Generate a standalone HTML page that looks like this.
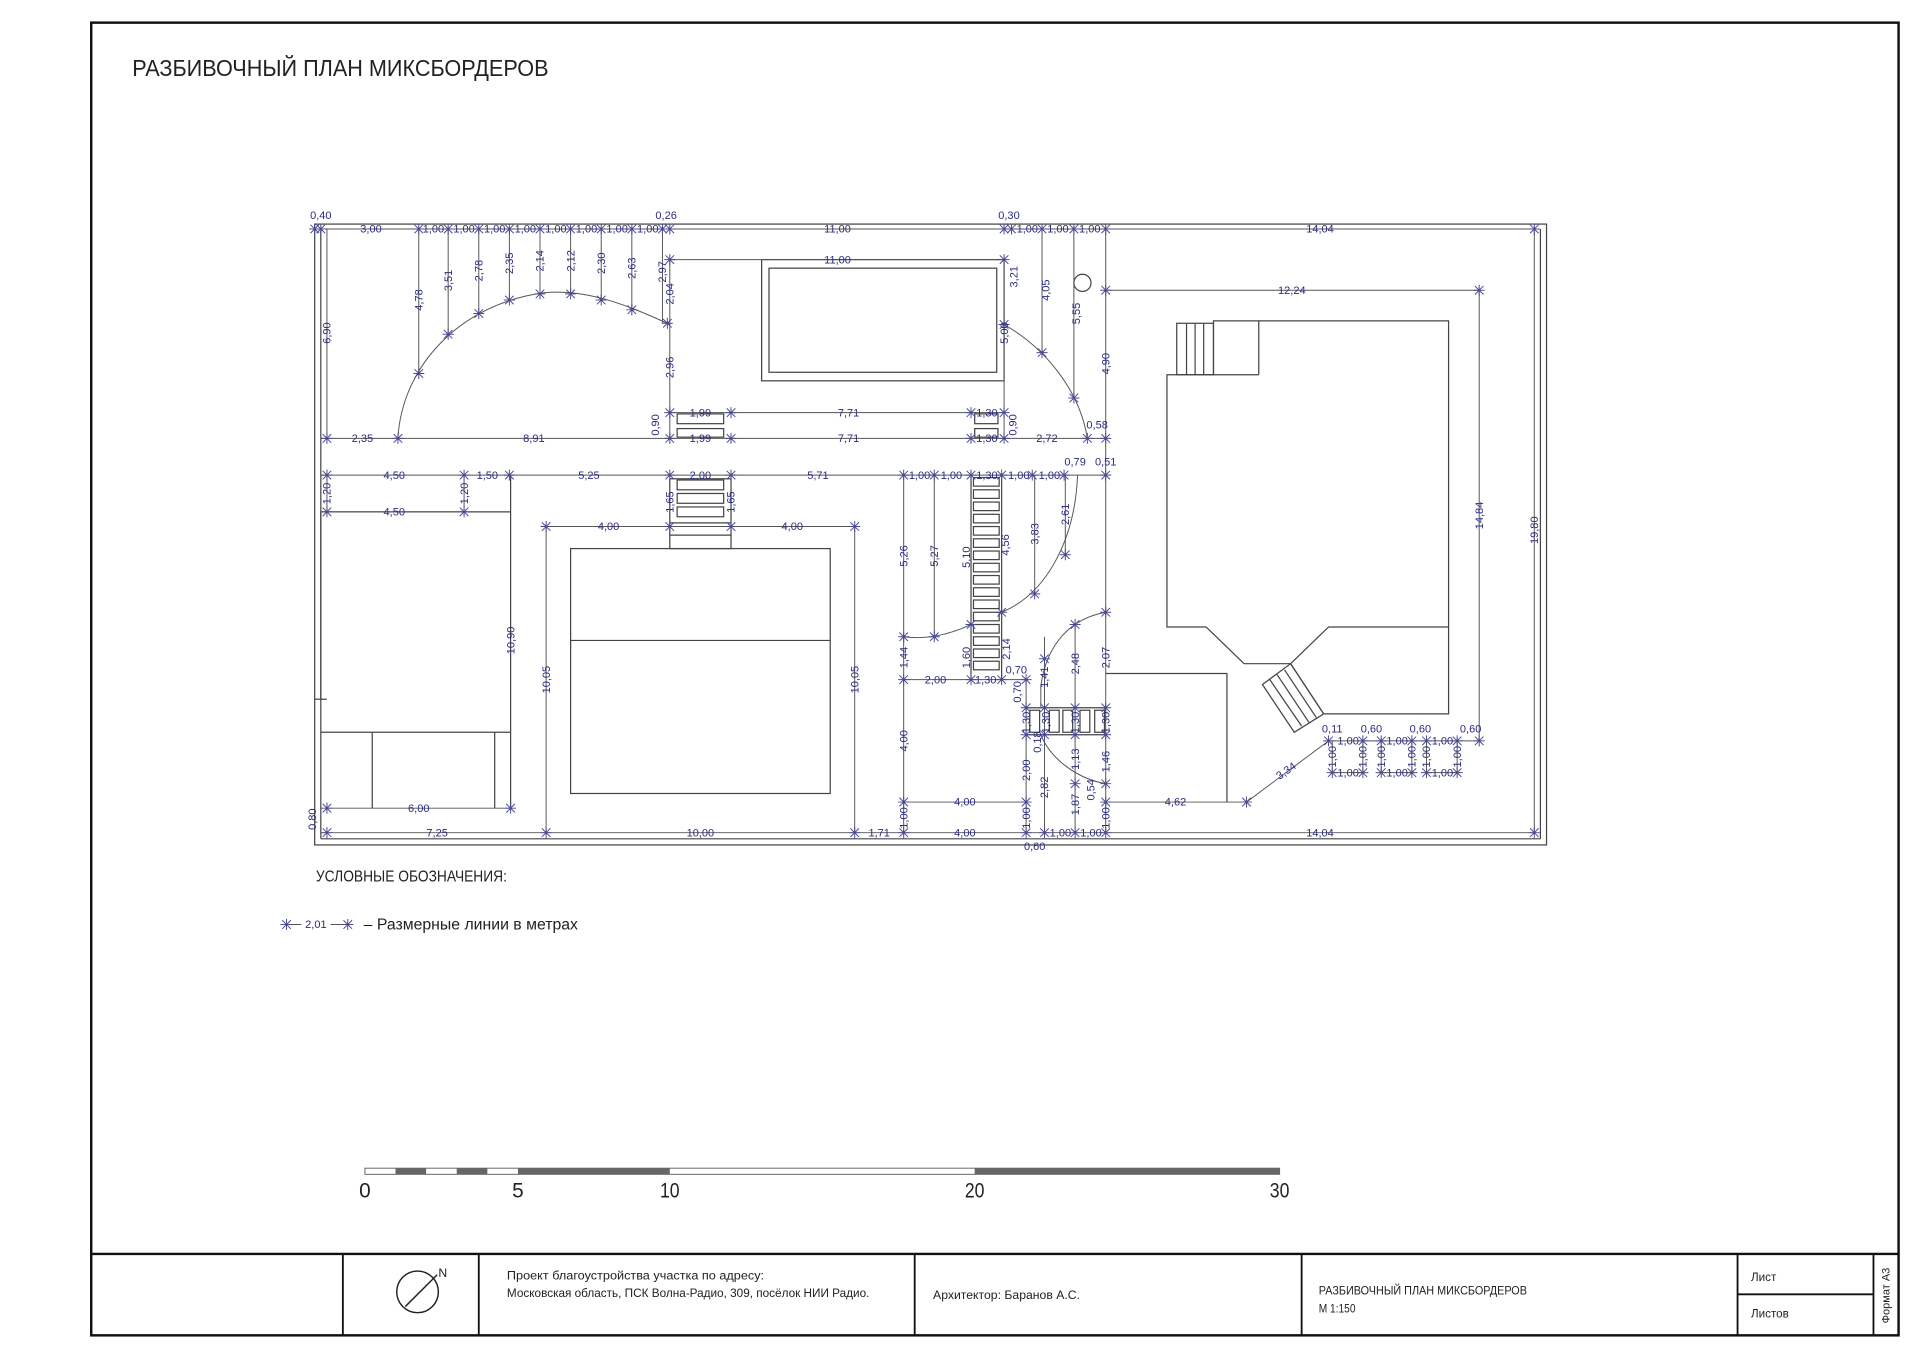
<!DOCTYPE html>
<html><head><meta charset="utf-8">
<style>
html,body{margin:0;padding:0;background:#fff;}
svg{display:block;}
.d{font-family:"Liberation Sans Narrow","Liberation Sans",sans-serif;font-size:9px;fill:#2b2b82;text-anchor:middle;}
.k{stroke:#555;stroke-width:0.8;fill:none;}
.g{stroke:#444;stroke-width:1;fill:none;}
.t{font-family:"Liberation Sans Narrow","Liberation Sans",sans-serif;fill:#222;}
</style></head>
<body>
<svg width="1920" height="1358" viewBox="0 0 1568 1109" preserveAspectRatio="none" xmlns="http://www.w3.org/2000/svg">
<defs>
<g id="x"><path d="M-3.5,-3.5L3.5,3.5M-3.5,3.5L3.5,-3.5M0,-4.5V4.5M-4.5,0H4.5" stroke="#4a4a90" stroke-width="0.8"/></g>
</defs>
<rect x="0" y="0" width="1568" height="1109" fill="#fff"/>
<!-- frame -->
<rect x="74.5" y="18.5" width="1476" height="1072" fill="none" stroke="#111" stroke-width="2"/>
<line x1="74" y1="1024" x2="1550" y2="1024" stroke="#111" stroke-width="2"/>
<g stroke="#111" stroke-width="1.5">
<line x1="280" y1="1024" x2="280" y2="1090"/><line x1="391" y1="1024" x2="391" y2="1090"/>
<line x1="747" y1="1024" x2="747" y2="1090"/><line x1="1063" y1="1024" x2="1063" y2="1090"/>
<line x1="1419" y1="1024" x2="1419" y2="1090"/><line x1="1530" y1="1024" x2="1530" y2="1090"/>
<line x1="1419" y1="1057" x2="1530" y2="1057"/>
</g>
<text class="t" x="108" y="62" font-size="19" textLength="340" lengthAdjust="spacingAndGlyphs">РАЗБИВОЧНЫЙ ПЛАН МИКСБОРДЕРОВ</text>

<!-- north arrow -->
<circle cx="341" cy="1055" r="17" fill="none" stroke="#222" stroke-width="1.2"/>
<line x1="331" y1="1067" x2="357" y2="1041" stroke="#222" stroke-width="1.2"/>
<text class="t" x="358" y="1043" font-size="10">N</text>
<text class="t" x="414" y="1045" font-size="9.5" textLength="210" lengthAdjust="spacingAndGlyphs">Проект благоустройства участка по адресу:</text>
<text class="t" x="414" y="1059" font-size="9.5" textLength="296" lengthAdjust="spacingAndGlyphs">Московская область, ПСК Волна-Радио, 309, посёлок НИИ Радио.</text>
<text class="t" x="762" y="1061" font-size="9.5" textLength="120" lengthAdjust="spacingAndGlyphs">Архитектор: Баранов А.С.</text>
<text class="t" x="1077" y="1057" font-size="9.5" textLength="170" lengthAdjust="spacingAndGlyphs">РАЗБИВОЧНЫЙ ПЛАН МИКСБОРДЕРОВ</text>
<text class="t" x="1077" y="1072" font-size="9.5" textLength="30" lengthAdjust="spacingAndGlyphs">М 1:150</text>
<text class="t" x="1430" y="1046" font-size="9.5">Лист</text>
<text class="t" x="1430" y="1076" font-size="9.5">Листов</text>
<text class="t" font-size="9" transform="translate(1543,1058) rotate(-90)" text-anchor="middle">Формат А3</text>

<!-- scale bar -->
<rect x="298" y="954" width="747" height="5" fill="#fff" stroke="#666" stroke-width="0.8"/>
<g fill="#666"><rect x="323" y="954" width="25" height="5"/><rect x="373" y="954" width="25" height="5"/><rect x="423" y="954" width="124" height="5"/><rect x="796" y="954" width="249" height="5"/></g>
<g class="t" font-size="17" text-anchor="middle"><text x="298" y="978">0</text><text x="423" y="978">5</text><text x="547" y="978" textLength="16" lengthAdjust="spacingAndGlyphs">10</text><text x="796" y="978" textLength="16" lengthAdjust="spacingAndGlyphs">20</text><text x="1045" y="978" textLength="16" lengthAdjust="spacingAndGlyphs">30</text></g>

<!-- legend -->
<text class="t" x="258" y="720" font-size="13" textLength="156" lengthAdjust="spacingAndGlyphs">УСЛОВНЫЕ ОБОЗНАЧЕНИЯ:</text>
<line class="k" x1="229" y1="755" x2="288" y2="755"/>
<use href="#x" x="234" y="755"/><use href="#x" x="284" y="755"/>
<rect x="246" y="749" width="24" height="10" fill="#fff"/>
<text class="d" x="258" y="758">2,01</text>
<text class="t" x="297" y="759" font-size="13" textLength="175" lengthAdjust="spacingAndGlyphs">– Размерные линии в метрах</text>

<!-- site boundary -->
<g class="g">
<rect x="257" y="183" width="1006" height="507"/>
<line x1="262" y1="187" x2="262" y2="685"/><line x1="1258" y1="187" x2="1258" y2="685"/>
<line x1="262" y1="685" x2="1258" y2="685"/>
<line x1="257" y1="571" x2="267" y2="571"/><line x1="262" y1="418" x2="262" y2="571"/>
</g>

<!-- structures -->
<g class="g">
<rect x="622" y="212" width="198" height="99"/><rect x="628" y="219" width="186" height="85"/>
<circle cx="884" cy="231" r="7"/>
<rect x="553" y="338" width="38" height="8"/><rect x="553" y="350" width="38" height="7"/>
<rect x="796" y="338" width="19" height="8"/><rect x="796" y="350" width="19" height="7"/>
<line x1="262" y1="418" x2="417" y2="418"/><line x1="417" y1="388" x2="417" y2="660"/>
<line x1="262" y1="598" x2="417" y2="598"/><line x1="304" y1="598" x2="304" y2="660"/><line x1="404" y1="598" x2="404" y2="660"/>
<rect x="466" y="448" width="212" height="200"/><line x1="466" y1="523" x2="678" y2="523"/>
<rect x="547" y="391" width="50" height="57"/>
<rect x="553" y="392" width="38" height="8"/><rect x="553" y="403" width="38" height="8"/><rect x="553" y="414" width="38" height="8"/>
<line x1="547" y1="427" x2="597" y2="427"/><line x1="547" y1="437" x2="597" y2="437"/>
<line x1="793" y1="388" x2="793" y2="555"/><line x1="818" y1="388" x2="818" y2="555"/>
<rect x="795" y="390" width="21" height="7"/><rect x="795" y="400" width="21" height="7"/><rect x="795" y="410" width="21" height="7"/><rect x="795" y="420" width="21" height="7"/>
<rect x="795" y="430" width="21" height="7"/><rect x="795" y="440" width="21" height="7"/><rect x="795" y="450" width="21" height="7"/><rect x="795" y="460" width="21" height="7"/>
<rect x="795" y="470" width="21" height="7"/><rect x="795" y="480" width="21" height="7"/><rect x="795" y="490" width="21" height="7"/><rect x="795" y="500" width="21" height="7"/>
<rect x="795" y="510" width="21" height="7"/><rect x="795" y="520" width="21" height="7"/><rect x="795" y="530" width="21" height="7"/><rect x="795" y="540" width="21" height="7"/>
<line x1="838" y1="578" x2="903" y2="578"/><line x1="838" y1="600" x2="903" y2="600"/>
<rect x="841" y="580" width="8" height="18"/><rect x="857" y="580" width="8" height="18"/><rect x="868" y="580" width="8" height="18"/><rect x="882" y="580" width="8" height="18"/><rect x="894" y="580" width="8" height="18"/>
<polyline points="903,550 1002,550 1002,655"/>
<polygon points="953,306 991,306 991,262 1183,262 1183,583 1081,583 1054,542 1085,512 1183,512 1085,512 1054,542 1016,542 985,512 953,512"/>
<rect x="961" y="264" width="30" height="42"/><line x1="969" y1="264" x2="969" y2="306"/><line x1="976" y1="264" x2="976" y2="306"/><line x1="983" y1="264" x2="983" y2="306"/>
<line x1="1028" y1="262" x2="1028" y2="306"/><line x1="991" y1="306" x2="1028" y2="306"/>
<polygon points="1031,559 1054,542 1081,583 1057,598"/>
<line x1="1037" y1="555" x2="1063" y2="593"/><line x1="1043" y1="551" x2="1069" y2="590"/><line x1="1049" y1="547" x2="1075" y2="586"/>
</g>

<!-- arcs -->
<g class="k" stroke="#444">
<path d="M325,358 C328,300 375,248 445,239 C480,236 515,250 547,265"/>
<path d="M820,265 C855,285 882,320 888,358"/>
<path d="M880,388 C878,440 855,485 818,500"/>
<path d="M738,520 C760,523 780,516 793,510"/>
<path d="M903,500 C875,505 855,525 850,560 L850,578"/>
<path d="M850,600 C858,620 880,636 903,640"/>
</g>

<!-- dimension lines -->
<g class="k">
<line x1="257" y1="187" x2="1253" y2="187"/>
<line x1="547" y1="212" x2="820" y2="212"/>
<line x1="903" y1="237" x2="1208" y2="237"/>
<line x1="547" y1="337" x2="820" y2="337"/>
<line x1="262" y1="358" x2="903" y2="358"/>
<line x1="262" y1="388" x2="903" y2="388"/>
<line x1="262" y1="418" x2="379" y2="418"/>
<line x1="446" y1="430" x2="698" y2="430"/>
<line x1="738" y1="555" x2="838" y2="555"/>
<line x1="738" y1="655" x2="838" y2="655"/><line x1="903" y1="655" x2="1018" y2="655"/>
<line x1="267" y1="660" x2="417" y2="660"/>
<line x1="262" y1="680" x2="1253" y2="680"/>
<line x1="1085" y1="605" x2="1208" y2="605"/>
<line x1="1018" y1="655" x2="1085" y2="605"/>
<line x1="267" y1="187" x2="267" y2="358"/><line x1="267" y1="388" x2="267" y2="418"/>
<line x1="342" y1="187" x2="342" y2="305"/><line x1="366" y1="187" x2="366" y2="273"/><line x1="391" y1="187" x2="391" y2="256"/>
<line x1="416" y1="187" x2="416" y2="245"/><line x1="441" y1="187" x2="441" y2="240"/><line x1="466" y1="187" x2="466" y2="240"/>
<line x1="491" y1="187" x2="491" y2="245"/><line x1="516" y1="187" x2="516" y2="253"/><line x1="541" y1="187" x2="541" y2="264"/>
<line x1="547" y1="212" x2="547" y2="358"/>
<line x1="820" y1="212" x2="820" y2="358"/>
<line x1="851" y1="187" x2="851" y2="288"/><line x1="877" y1="187" x2="877" y2="325"/>
<line x1="903" y1="187" x2="903" y2="680"/>
<line x1="1208" y1="237" x2="1208" y2="605"/>
<line x1="1253" y1="187" x2="1253" y2="680"/>
<line x1="379" y1="388" x2="379" y2="418"/>
<line x1="446" y1="430" x2="446" y2="680"/><line x1="698" y1="430" x2="698" y2="680"/>
<line x1="738" y1="388" x2="738" y2="680"/>
<line x1="763" y1="388" x2="763" y2="520"/>
<line x1="845" y1="388" x2="845" y2="485"/><line x1="870" y1="388" x2="870" y2="453"/>
<line x1="838" y1="555" x2="838" y2="680"/>
<line x1="853" y1="520" x2="853" y2="680"/>
<line x1="878" y1="510" x2="878" y2="680"/>
<line x1="257" y1="655" x2="257" y2="680"/>
</g>
<g>
<use href="#x" x="257" y="187"/><use href="#x" x="262" y="187"/><use href="#x" x="342" y="187"/><use href="#x" x="366" y="187"/><use href="#x" x="391" y="187"/><use href="#x" x="416" y="187"/><use href="#x" x="441" y="187"/><use href="#x" x="466" y="187"/><use href="#x" x="491" y="187"/><use href="#x" x="516" y="187"/><use href="#x" x="541" y="187"/><use href="#x" x="547" y="187"/>
<use href="#x" x="820" y="187"/><use href="#x" x="826" y="187"/><use href="#x" x="851" y="187"/><use href="#x" x="877" y="187"/><use href="#x" x="903" y="187"/><use href="#x" x="1253" y="187"/>
<use href="#x" x="547" y="212"/><use href="#x" x="820" y="212"/><use href="#x" x="903" y="237"/><use href="#x" x="1208" y="237"/>
<use href="#x" x="342" y="305"/><use href="#x" x="366" y="273"/><use href="#x" x="391" y="256"/><use href="#x" x="416" y="245"/><use href="#x" x="441" y="240"/><use href="#x" x="466" y="240"/><use href="#x" x="491" y="245"/><use href="#x" x="516" y="253"/><use href="#x" x="545" y="264"/>
<use href="#x" x="820" y="265"/><use href="#x" x="851" y="288"/><use href="#x" x="877" y="325"/>
<use href="#x" x="547" y="337"/><use href="#x" x="597" y="337"/><use href="#x" x="793" y="337"/><use href="#x" x="820" y="337"/>
<use href="#x" x="267" y="358"/><use href="#x" x="325" y="358"/><use href="#x" x="547" y="358"/><use href="#x" x="597" y="358"/><use href="#x" x="793" y="358"/><use href="#x" x="820" y="358"/><use href="#x" x="888" y="358"/><use href="#x" x="903" y="358"/>
<use href="#x" x="267" y="388"/><use href="#x" x="379" y="388"/><use href="#x" x="416" y="388"/><use href="#x" x="547" y="388"/><use href="#x" x="597" y="388"/><use href="#x" x="738" y="388"/><use href="#x" x="763" y="388"/><use href="#x" x="793" y="388"/><use href="#x" x="818" y="388"/><use href="#x" x="843" y="388"/><use href="#x" x="869" y="388"/><use href="#x" x="903" y="388"/>
<use href="#x" x="267" y="418"/><use href="#x" x="379" y="418"/>
<use href="#x" x="446" y="430"/><use href="#x" x="547" y="430"/><use href="#x" x="597" y="430"/><use href="#x" x="698" y="430"/>
<use href="#x" x="870" y="453"/><use href="#x" x="845" y="485"/><use href="#x" x="818" y="500"/><use href="#x" x="903" y="500"/><use href="#x" x="878" y="510"/>
<use href="#x" x="738" y="520"/><use href="#x" x="763" y="520"/><use href="#x" x="793" y="510"/><use href="#x" x="853" y="538"/>
<use href="#x" x="738" y="555"/><use href="#x" x="793" y="555"/><use href="#x" x="818" y="555"/><use href="#x" x="838" y="555"/>
<use href="#x" x="838" y="578"/><use href="#x" x="853" y="578"/><use href="#x" x="878" y="578"/><use href="#x" x="903" y="578"/>
<use href="#x" x="838" y="600"/><use href="#x" x="853" y="600"/><use href="#x" x="878" y="600"/><use href="#x" x="903" y="600"/>
<use href="#x" x="878" y="640"/><use href="#x" x="903" y="640"/>
<use href="#x" x="738" y="655"/><use href="#x" x="838" y="655"/><use href="#x" x="903" y="655"/><use href="#x" x="1018" y="655"/>
<use href="#x" x="267" y="660"/><use href="#x" x="417" y="660"/>
<use href="#x" x="267" y="680"/><use href="#x" x="446" y="680"/><use href="#x" x="698" y="680"/><use href="#x" x="738" y="680"/><use href="#x" x="838" y="680"/><use href="#x" x="853" y="680"/><use href="#x" x="878" y="680"/><use href="#x" x="903" y="680"/><use href="#x" x="1253" y="680"/>
<use href="#x" x="1085" y="605"/><use href="#x" x="1113" y="605"/><use href="#x" x="1128" y="605"/><use href="#x" x="1153" y="605"/><use href="#x" x="1165" y="605"/><use href="#x" x="1190" y="605"/><use href="#x" x="1208" y="605"/>
<use href="#x" x="1088" y="631"/><use href="#x" x="1113" y="631"/><use href="#x" x="1128" y="631"/><use href="#x" x="1153" y="631"/><use href="#x" x="1165" y="631"/><use href="#x" x="1190" y="631"/>
</g>
<g class="k">
<line x1="1088" y1="631" x2="1113" y2="631"/><line x1="1128" y1="631" x2="1153" y2="631"/><line x1="1165" y1="631" x2="1190" y2="631"/>
<line x1="1088" y1="605" x2="1088" y2="631"/><line x1="1113" y1="605" x2="1113" y2="631"/><line x1="1128" y1="605" x2="1128" y2="631"/><line x1="1153" y1="605" x2="1153" y2="631"/><line x1="1165" y1="605" x2="1165" y2="631"/><line x1="1190" y1="605" x2="1190" y2="631"/>
</g>

<g class="d">
<text x="262" y="179">0,40</text><text x="303" y="190">3,00</text>
<text x="354" y="190">1,00</text><text x="379" y="190">1,00</text><text x="404" y="190">1,00</text><text x="429" y="190">1,00</text><text x="454" y="190">1,00</text><text x="479" y="190">1,00</text><text x="504" y="190">1,00</text><text x="529" y="190">1,00</text>
<text x="544" y="179">0,26</text><text x="684" y="190">11,00</text><text x="824" y="179">0,30</text>
<text x="839" y="190">1,00</text><text x="864" y="190">1,00</text><text x="890" y="190">1,00</text><text x="1078" y="190">14,04</text>
<text x="684" y="215">11,00</text><text x="1055" y="240">12,24</text>
<text x="572" y="340">1,99</text><text x="693" y="340">7,71</text><text x="806" y="340">1,30</text>
<text x="296" y="361">2,35</text><text x="436" y="361">8,91</text><text x="572" y="361">1,99</text><text x="693" y="361">7,71</text><text x="806" y="361">1,30</text><text x="855" y="361">2,72</text><text x="896" y="350">0,58</text>
<text x="322" y="391">4,50</text><text x="398" y="391">1,50</text><text x="481" y="391">5,25</text><text x="572" y="391">2,00</text><text x="668" y="391">5,71</text>
<text x="751" y="391">1,00</text><text x="777" y="391">1,00</text><text x="806" y="391">1,30</text><text x="832" y="391">1,00</text><text x="857" y="391">1,00</text>
<text x="878" y="380">0,79</text><text x="903" y="380">0,51</text>
<text x="322" y="421">4,50</text>
<text x="497" y="433">4,00</text><text x="647" y="433">4,00</text>
<text x="764" y="558">2,00</text><text x="805" y="558">1,30</text><text x="830" y="550">0,70</text>
<text x="788" y="658">4,00</text><text x="960" y="658">4,62</text>
<text x="342" y="663">6,00</text>
<text x="357" y="683">7,25</text><text x="572" y="683">10,00</text><text x="718" y="683">1,71</text><text x="788" y="683">4,00</text><text x="845" y="694">0,60</text><text x="866" y="683">1,00</text><text x="891" y="683">1,00</text><text x="1078" y="683">14,04</text>
<text x="1088" y="598">0,11</text><text x="1120" y="598">0,60</text><text x="1160" y="598">0,60</text><text x="1201" y="598">0,60</text>
<text x="1101" y="608">1,00</text><text x="1141" y="608">1,00</text><text x="1178" y="608">1,00</text>
<text x="1101" y="634">1,00</text><text x="1141" y="634">1,00</text><text x="1178" y="634">1,00</text>
<text transform="translate(1052,632) rotate(-35)">3,34</text>
</g>
<g class="d">
<text transform="translate(270,272) rotate(-90)">6,90</text>
<text transform="translate(345,245) rotate(-90)">4,78</text>
<text transform="translate(369,229) rotate(-90)">3,51</text>
<text transform="translate(394,221) rotate(-90)">2,78</text>
<text transform="translate(419,215) rotate(-90)">2,35</text>
<text transform="translate(444,213) rotate(-90)">2,14</text>
<text transform="translate(469,213) rotate(-90)">2,12</text>
<text transform="translate(494,215) rotate(-90)">2,30</text>
<text transform="translate(519,219) rotate(-90)">2,63</text>
<text transform="translate(544,222) rotate(-90)">2,97</text>
<text transform="translate(550,240) rotate(-90)">2,04</text>
<text transform="translate(550,300) rotate(-90)">2,96</text>
<text transform="translate(538,347) rotate(-90)">0,90</text>
<text transform="translate(830,347) rotate(-90)">0,90</text>
<text transform="translate(831,226) rotate(-90)">3,21</text>
<text transform="translate(823,272) rotate(-90)">5,00</text>
<text transform="translate(857,237) rotate(-90)">4,05</text>
<text transform="translate(882,256) rotate(-90)">5,55</text>
<text transform="translate(906,297) rotate(-90)">4,90</text>
<text transform="translate(1211,421) rotate(-90)">14,84</text>
<text transform="translate(1256,433) rotate(-90)">19,80</text>
<text transform="translate(270,403) rotate(-90)">1,20</text>
<text transform="translate(382,403) rotate(-90)">1,20</text>
<text transform="translate(550,410) rotate(-90)">1,65</text>
<text transform="translate(600,410) rotate(-90)">1,65</text>
<text transform="translate(420,523) rotate(-90)">10,90</text>
<text transform="translate(449,555) rotate(-90)">10,05</text>
<text transform="translate(701,555) rotate(-90)">10,05</text>
<text transform="translate(741,454) rotate(-90)">5,26</text>
<text transform="translate(766,454) rotate(-90)">5,27</text>
<text transform="translate(792,455) rotate(-90)">5,10</text>
<text transform="translate(824,445) rotate(-90)">4,56</text>
<text transform="translate(848,436) rotate(-90)">3,83</text>
<text transform="translate(873,420) rotate(-90)">2,61</text>
<text transform="translate(741,537) rotate(-90)">1,44</text>
<text transform="translate(792,537) rotate(-90)">1,60</text>
<text transform="translate(825,530) rotate(-90)">2,14</text>
<text transform="translate(881,542) rotate(-90)">2,48</text>
<text transform="translate(856,553) rotate(-90)">1,41</text>
<text transform="translate(906,537) rotate(-90)">2,07</text>
<text transform="translate(834,565) rotate(-90)">0,70</text>
<text transform="translate(841,590) rotate(-90)">1,30</text>
<text transform="translate(857,590) rotate(-90)">1,30</text>
<text transform="translate(881,590) rotate(-90)">1,30</text>
<text transform="translate(906,590) rotate(-90)">1,30</text>
<text transform="translate(850,606) rotate(-90)">0,18</text>
<text transform="translate(741,605) rotate(-90)">4,00</text>
<text transform="translate(841,629) rotate(-90)">2,00</text>
<text transform="translate(856,643) rotate(-90)">2,82</text>
<text transform="translate(881,620) rotate(-90)">1,13</text>
<text transform="translate(906,622) rotate(-90)">1,46</text>
<text transform="translate(881,657) rotate(-90)">1,87</text>
<text transform="translate(894,645) rotate(-90)">0,54</text>
<text transform="translate(741,668) rotate(-90)">1,00</text>
<text transform="translate(841,668) rotate(-90)">1,00</text>
<text transform="translate(906,668) rotate(-90)">1,00</text>
<text transform="translate(258,669) rotate(-90)">0,80</text>
<text transform="translate(1091,618) rotate(-90)">1,00</text><text transform="translate(1116,618) rotate(-90)">1,00</text>
<text transform="translate(1131,618) rotate(-90)">1,00</text><text transform="translate(1156,618) rotate(-90)">1,00</text>
<text transform="translate(1168,618) rotate(-90)">1,00</text><text transform="translate(1193,618) rotate(-90)">1,00</text>
</g>
</svg>
</body></html>
